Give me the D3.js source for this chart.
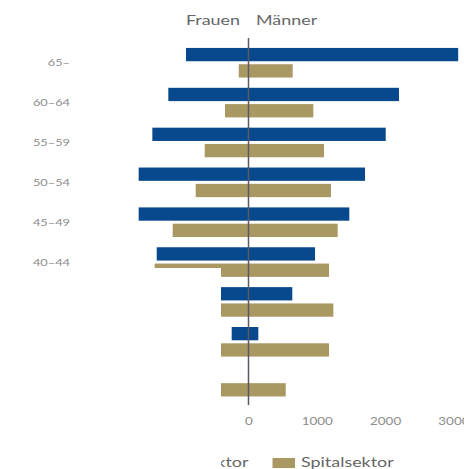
<!DOCTYPE html>
<html>
<head>
<meta charset="utf-8">
<script src="https://cdn.jsdelivr.net/npm/d3@7"></script>
<style>
  html, body { margin: 0; padding: 0; background: #fff; }
  svg { display: block; font-family: Lato, "Open Sans", sans-serif; }
</style>
</head>
<body>
<svg id="chart" width="464" height="469"></svg>
<script>
// Age groups, top to bottom
const ageGroups = ["65–", "60–64", "55–59", "50–54", "45–49", "40–44", "35–39", "30–34", "–29"];

// Praxissektor (blue)
const praxisFrauen = [915, 1174, 1408, 1608, 1608, 1344, 1050, 246, 0];
const praxisMaenner = [3070, 2203, 2009, 1706, 1476, 974, 641, 144, 0];

// Spitalsektor (gold)
const spitalFrauen = [143, 344, 641, 773, 1110, 1373, 1350, 1200, 700];
const spitalMaenner = [647, 949, 1105, 1208, 1306, 1179, 1242, 1179, 545];

const tickValues = [0, 1000, 2000, 3000];
const seriesNames = ["Praxissektor", "Spitalsektor"];
const seriesColors = ["#08488d", "#aa9862"];

// Text in this chart is set slightly wide
const stretch = 1.28;

const svg = d3.select("#chart");

const x = d3.scaleLinear().domain([-3000, 3000]).range([43.6, 453.4]);
const y = d3.scaleBand().domain(ageGroups).range([42.8, 401.6]);
const ySub = d3.scaleBand().domain(seriesNames).range([0, y.bandwidth()])
  .paddingInner(0.184).paddingOuter(0.315);

const rows = ageGroups.map((g, i) => ({
  group: g,
  bars: [
    { series: seriesNames[0], f: praxisFrauen[i], m: praxisMaenner[i] },
    { series: seriesNames[1], f: spitalFrauen[i], m: spitalMaenner[i] }
  ]
}));

const grp = svg.append("g").selectAll("g").data(rows).join("g")
  .attr("transform", d => `translate(0,${y(d.group)})`);

grp.selectAll("rect").data(d => d.bars.filter(b => b.f + b.m > 0)).join("rect")
  .attr("x", b => x(-b.f))
  .attr("width", b => x(b.m) - x(-b.f))
  .attr("y", b => ySub(b.series))
  .attr("height", ySub.bandwidth())
  .attr("fill", b => seriesColors[seriesNames.indexOf(b.series)]);

// Places a text at (px, py) with the wide setting
function placeText(sel, px, py) {
  return sel.attr("transform", `translate(${px},${py}) scale(${stretch},1)`);
}

// Age labels
svg.append("g").selectAll("text").data(ageGroups).join("text")
  .attr("transform", g => `translate(70,${y(g) + y.bandwidth() / 2}) scale(${stretch},1)`)
  .attr("dy", "0.35em")
  .attr("text-anchor", "end")
  .attr("font-size", 10)
  .attr("fill", "#8c8c8c")
  .text(g => g);

// Zero line
svg.append("line")
  .attr("x1", x(0)).attr("x2", x(0))
  .attr("y1", 38).attr("y2", 405)
  .attr("stroke", "#5a5a62").attr("stroke-width", 1.5);

// Value axis (labels only)
const xAxis = d3.axisBottom(x).tickValues(tickValues).tickSize(0).tickPadding(0)
  .tickFormat(d3.format("d"));
const axisG = svg.append("g").attr("transform", "translate(0,418)").call(xAxis);
axisG.select(".domain").remove();
axisG.selectAll("text")
  .attr("font-family", "Lato, 'Open Sans', sans-serif")
  .attr("font-size", 10.5)
  .attr("fill", "#8c8c8c")
  .attr("transform", `scale(${stretch},1)`);

// Sex headings
placeText(svg.append("text"), 240, 25).attr("text-anchor", "end")
  .attr("font-size", 14).attr("fill", "#666").text("Frauen");
placeText(svg.append("text"), 256, 25).attr("text-anchor", "start")
  .attr("font-size", 14).attr("fill", "#666").text("Männer");

// Legend
const legend = svg.append("g");
legend.append("rect").attr("x", 120).attr("y", 458).attr("width", 22).attr("height", 10)
  .attr("fill", seriesColors[0]);
placeText(legend.append("text"), 248.5, 467).attr("text-anchor", "end")
  .attr("font-size", 14).attr("fill", "#666").text(seriesNames[0]);
legend.append("rect").attr("x", 272.5).attr("y", 458).attr("width", 22.5).attr("height", 10)
  .attr("fill", seriesColors[1]);
placeText(legend.append("text"), 301, 467).attr("text-anchor", "start")
  .attr("font-size", 14).attr("fill", "#666").text(seriesNames[1]);

// Blank panel over the lower-left corner
svg.append("rect").attr("x", 0).attr("y", 268).attr("width", 221).attr("height", 201)
  .attr("fill", "#fff");
</script>
</body>
</html>
